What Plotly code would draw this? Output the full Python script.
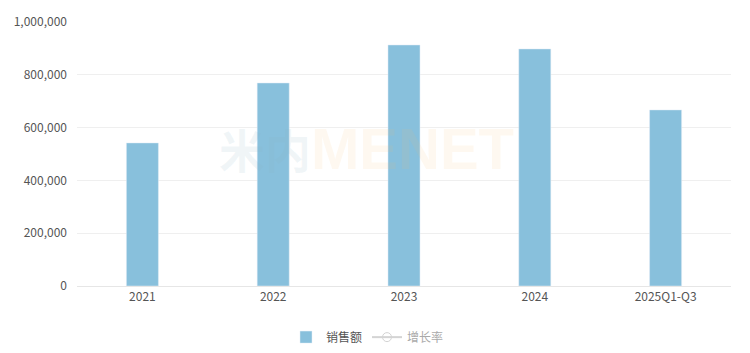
import plotly.graph_objects as go

categories = ["2021", "2022", "2023", "2024", "2025Q1-Q3"]
sales = [542000, 769000, 913000, 898000, 667000]
growth = [None, 41.9, 18.7, -1.6, None]
y_ticks = [0, 200000, 400000, 600000, 800000, 1000000]
y_tick_labels = ["0", "200,000", "400,000", "600,000", "800,000", "1,000,000"]

fig = go.Figure()
fig.add_trace(go.Bar(
    x=categories, y=sales, name="销售额",
    marker=dict(color="#88c0dc"), width=0.245,
))
fig.add_trace(go.Scatter(
    x=categories, y=growth, name="增长率", yaxis="y2",
    mode="lines+markers", visible="legendonly",
    line=dict(color="#aaaaaa", width=2),
    marker=dict(symbol="circle-open", size=9, color="#aaaaaa"),
))

fig.add_annotation(
    x=265, y=148, xref="paper", yref="paper", xanchor="center", yanchor="middle",
    text="<b>米内</b>", showarrow=False,
    font=dict(size=46, color="rgba(140,180,195,0.12)", family="Noto Sans CJK SC"),
)
fig.add_annotation(
    x=412, y=148, xref="paper", yref="paper", xanchor="center", yanchor="middle",
    text="<b>MENET</b>", showarrow=False,
    font=dict(size=58, color="rgba(250,185,110,0.10)", family="Liberation Sans"),
)

fig.update_layout(
    width=750, height=353,
    margin=dict(l=77, r=19, t=22, b=67),
    paper_bgcolor="white", plot_bgcolor="white",
    font=dict(family="Noto Sans CJK SC, Noto Sans, sans-serif", size=12, color="#666666"),
    showlegend=True,
    legend=dict(orientation="h", xref="container", x=0.49, xanchor="center",
                yref="container", y=0.045, yanchor="middle",
                font=dict(size=12, color="#555555"), itemwidth=30),
    xaxis=dict(showgrid=False, showline=True, linecolor="#e6e6e6", ticks="",
               tickfont=dict(size=12, color="#555555")),
    yaxis=dict(range=[0, 1000000], tickvals=y_ticks, ticktext=y_tick_labels,
               showgrid=True, gridcolor="#efefef", zeroline=False, showline=False,
               ticks="", ticklabelstandoff=9, tickfont=dict(size=12, color="#555555")),
    yaxis2=dict(overlaying="y", side="right", visible=False),
)

# place watermark in pixel terms converted to paper coordinates
plot_w = 750 - 77 - 19
plot_h = 353 - 22 - 67
for ann in fig.layout.annotations:
    ann.x = (ann.x - 77) / plot_w
    ann.y = (286 - ann.y) / plot_h

fig.write_html("out.html")
